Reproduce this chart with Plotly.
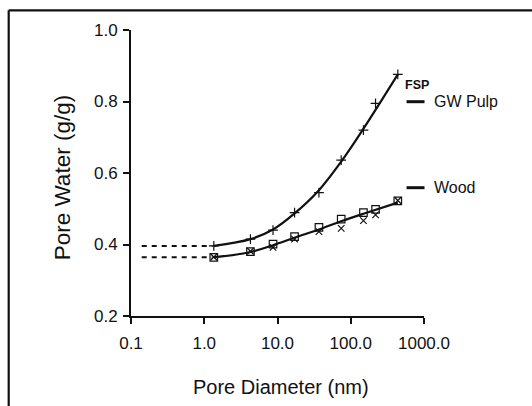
import plotly.graph_objects as go

# ---- data ----
pore_diameter = [1.35, 4.27, 8.69, 17.1, 36.8, 74.1, 149, 218, 439]
gw_pulp = [0.396, 0.415, 0.440, 0.489, 0.545, 0.636, 0.720, 0.795, 0.876]
wood_a = [0.364, 0.380, 0.401, 0.422, 0.448, 0.471, 0.489, 0.498, 0.522]
wood_b = [0.365, 0.381, 0.392, 0.415, 0.436, 0.445, 0.467, 0.483, 0.523]

gw_fit_x = [1.35, 4.27, 8.69, 17.1, 36.8, 74.1, 149, 439]
gw_fit_y = [0.396, 0.415, 0.442, 0.487, 0.552, 0.632, 0.724, 0.876]
wood_fit_x = [1.35, 4.27, 8.69, 17.1, 36.8, 74.1, 149, 439]
wood_fit_y = [0.364, 0.379, 0.398, 0.419, 0.442, 0.465, 0.486, 0.517]

ext_x = [0.14, 1.3]
gw_ext_y = [0.396, 0.396]
wood_ext_y = [0.364, 0.364]

x_tickvals = [0.1, 1, 10, 100, 1000]
x_ticktext = ["0.1", "1.0", "10.0", "100.0", "1000.0"]
y_tickvals = [0.2, 0.4, 0.6, 0.8, 1.0]
y_ticktext = ["0.2", "0.4", "0.6", "0.8", "1.0"]

FONT = "Liberation Sans, Arial, sans-serif"
INK = "#111111"

fig = go.Figure()

# dashed extrapolation lines
for yy in (gw_ext_y, wood_ext_y):
    fig.add_trace(go.Scatter(x=ext_x, y=yy, mode="lines",
                             line=dict(color=INK, width=2, dash="5px,5px"),
                             showlegend=False, hoverinfo="skip"))

# fitted curves
fig.add_trace(go.Scatter(x=gw_fit_x, y=gw_fit_y, mode="lines",
                         line=dict(color=INK, width=2.2, shape="spline", smoothing=1.0),
                         showlegend=False))
fig.add_trace(go.Scatter(x=wood_fit_x, y=wood_fit_y, mode="lines",
                         line=dict(color=INK, width=2.2, shape="spline", smoothing=1.0),
                         showlegend=False))

# data markers
fig.add_trace(go.Scatter(x=pore_diameter, y=gw_pulp, mode="markers",
                         marker=dict(symbol="cross-thin-open", size=7, color=INK,
                                     line=dict(color=INK, width=1.2)),
                         showlegend=False))
fig.add_trace(go.Scatter(x=pore_diameter, y=wood_a, mode="markers",
                         marker=dict(symbol="square-open", size=7.5, color=INK,
                                     line=dict(color=INK, width=1.2)),
                         showlegend=False))
fig.add_trace(go.Scatter(x=pore_diameter, y=wood_b, mode="markers",
                         marker=dict(symbol="x-thin-open", size=6.5, color=INK,
                                     line=dict(color=INK, width=1.2)),
                         showlegend=False))

# plot area geometry (pixels): x 131..424.5, y 30..316
L, R, T, B = 131, 424.5, 30, 316
W, H = R - L, B - T
def px(x):
    return (x - L) / W
def py(y):
    return (B - y) / H

shapes = [
    # outer frame
    dict(type="line", xref="paper", yref="paper", x0=px(8.5), x1=px(540), y0=py(10.3), y1=py(10.3),
         line=dict(color=INK, width=2.2)),
    dict(type="line", xref="paper", yref="paper", x0=px(8.5), x1=px(8.5), y0=py(10.3), y1=py(420),
         line=dict(color=INK, width=2.2)),
    # legend dashes
    dict(type="line", xref="paper", yref="paper", x0=px(407), x1=px(425), y0=py(101.7), y1=py(101.7),
         line=dict(color=INK, width=3)),
    dict(type="line", xref="paper", yref="paper", x0=px(407), x1=px(425), y0=py(187.7), y1=py(187.7),
         line=dict(color=INK, width=3)),
]

annotations = [
    dict(text="<b>FSP</b>", xref="paper", yref="paper", x=px(417), y=py(85),
         xanchor="center", yanchor="middle",
         showarrow=False, font=dict(size=12.5, color=INK, family=FONT)),
    dict(text="GW Pulp", xref="paper", yref="paper", x=px(433), y=py(101.7),
         xanchor="left", yanchor="middle",
         showarrow=False, font=dict(size=16, color=INK, family=FONT)),
    dict(text="Wood", xref="paper", yref="paper", x=px(433), y=py(187.7),
         xanchor="left", yanchor="middle",
         showarrow=False, font=dict(size=16, color=INK, family=FONT)),
    dict(text="Pore Diameter (nm)", xref="paper", yref="paper", x=px(281.5), y=py(387),
         xanchor="center", yanchor="middle",
         showarrow=False, font=dict(size=20, color=INK, family=FONT)),
    dict(text="Pore Water (g/g)", xref="paper", yref="paper", x=px(62.7), y=py(177.5),
         xanchor="center", yanchor="middle",
         textangle=-90, showarrow=False, font=dict(size=22.5, color=INK, family=FONT)),
]

fig.update_layout(
    width=532, height=406,
    margin=dict(l=L, r=532 - R, t=T, b=406 - B, pad=0),
    paper_bgcolor="white", plot_bgcolor="white",
    font=dict(family=FONT, color=INK, size=16),
    shapes=shapes, annotations=annotations,
    showlegend=False,
)
fig.update_xaxes(type="log", range=[-1, 3], tickvals=x_tickvals, ticktext=x_ticktext,
                 showgrid=False, zeroline=False, showline=True, linecolor=INK, linewidth=2,
                 ticks="outside", ticklen=6, tickwidth=2, tickcolor=INK,
                 tickfont=dict(size=17, family=FONT, color=INK), ticklabelstandoff=5)
fig.update_yaxes(range=[0.2, 1.0], tickvals=y_tickvals, ticktext=y_ticktext,
                 showgrid=False, zeroline=False, showline=True, linecolor=INK, linewidth=2,
                 ticks="outside", ticklen=6, tickwidth=2, tickcolor=INK,
                 tickfont=dict(size=17, family=FONT, color=INK), ticklabelstandoff=2)

fig.write_html("out.html", config={"displayModeBar": False},
               post_script="document.body.style.margin='0';document.body.style.overflow='hidden';")
